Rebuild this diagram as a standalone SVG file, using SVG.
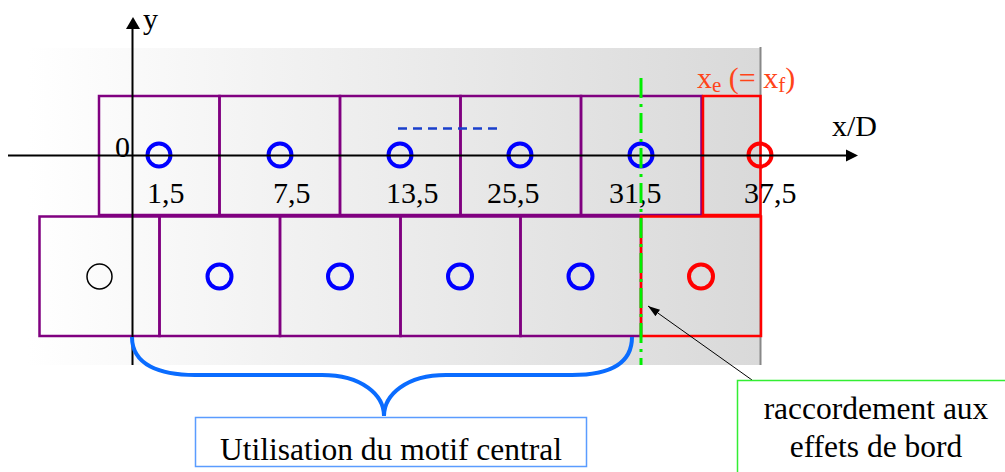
<svg xmlns="http://www.w3.org/2000/svg" width="1005" height="472" viewBox="0 0 1005 472">
<defs>
<linearGradient id="bg" x1="0" y1="0" x2="1" y2="0">
<stop offset="0" stop-color="#ffffff"/>
<stop offset="1" stop-color="#d9d9d9"/>
</linearGradient>
<marker id="ah" viewBox="0 0 12 8" refX="12" refY="4" markerWidth="12" markerHeight="8" markerUnits="userSpaceOnUse" orient="auto">
<path d="M0,0 L12,4 L0,8 Z" fill="#000"/>
</marker>
</defs>
<style>
.cell{fill:none;stroke:#800080;stroke-width:2.5}
.rcell{fill:none;stroke:#ff0000;stroke-width:2.5}
.bc{fill:none;stroke:#0000ff;stroke-width:4}
.rc{fill:none;stroke:#ff0000;stroke-width:4}
.t{font-family:"Liberation Serif","Times New Roman",serif;font-size:30px;fill:#000}
.tb{font-family:"Liberation Serif","Times New Roman",serif;font-size:31.5px;fill:#000}
.ax{stroke:#000;stroke-width:2;fill:none}
</style>
<rect x="28" y="48" width="732" height="317" fill="url(#bg)"/>
<line x1="760.5" y1="47" x2="760.5" y2="365" stroke="#888" stroke-width="2"/>

<g id="top-row">
<g id="t1"><rect class="cell" x="99" y="96" width="120.5" height="119"/><circle class="bc" cx="159" cy="155" r="11.5"/><text class="t" x="147" y="203">1,5</text></g>
<g id="t2"><rect class="cell" x="219.5" y="96" width="120.5" height="119"/><circle class="bc" cx="280" cy="155" r="11.5"/><text class="t" x="273" y="203">7,5</text></g>
<g id="t3"><rect class="cell" x="340" y="96" width="120.5" height="119"/><circle class="bc" cx="400" cy="155" r="11.5"/><text class="t" x="386" y="203">13,5</text></g>
<g id="t4"><rect class="cell" x="460.5" y="96" width="120.5" height="119"/><circle class="bc" cx="520" cy="155" r="11.5"/><text class="t" x="487" y="203">25,5</text></g>
<g id="t5"><rect class="cell" x="581" y="96" width="120.5" height="119"/><circle class="bc" cx="641" cy="155" r="11.5"/><text class="t" x="609" y="203">31,5</text></g>
<g id="t6"><rect class="rcell" x="703" y="96" width="57.5" height="119"/><circle class="rc" cx="760" cy="155" r="11.5"/><text class="t" x="744" y="203">37,5</text></g>
</g>

<g id="bottom-row">
<g id="b0"><rect class="cell" x="39.5" y="216.5" width="120" height="119.5"/><circle cx="99.5" cy="276.5" r="12.5" fill="none" stroke="#000" stroke-width="1.5"/></g>
<g id="b1"><rect class="cell" x="159.5" y="216.5" width="120.5" height="119.5"/><circle class="bc" cx="219.5" cy="276.5" r="12"/></g>
<g id="b2"><rect class="cell" x="280" y="216.5" width="120.5" height="119.5"/><circle class="bc" cx="340" cy="276.5" r="12"/></g>
<g id="b3"><rect class="cell" x="400.5" y="216.5" width="120" height="119.5"/><circle class="bc" cx="460" cy="276.5" r="12"/></g>
<g id="b4"><rect class="cell" x="520.5" y="216.5" width="120.5" height="119.5"/><circle class="bc" cx="580.5" cy="276.5" r="12"/></g>
<g id="b5"><rect class="rcell" x="641" y="216.5" width="120" height="119.5"/><circle class="rc" cx="701" cy="276.5" r="12"/></g>
</g>

<g id="axes">
<line class="ax" x1="8" y1="155.5" x2="848" y2="155.5"/>
<path d="M858,155.5 L846,149.5 L846,161.5 Z" fill="#000"/>
<line class="ax" x1="132.5" y1="365" x2="132.5" y2="27"/>
<path d="M133,17 L126,29 L140,29 Z" fill="#000"/>
<text class="t" x="143" y="29">y</text>
<text class="t" x="832" y="136">x/D</text>
<text class="t" x="115" y="157">0</text>
<text x="697" y="88" font-family="Liberation Serif, Times New Roman, serif" font-size="30" fill="#ff4419">x<tspan font-size="21" dy="4">e</tspan><tspan dy="-4"> (= x</tspan><tspan font-size="21" dy="4">f</tspan><tspan dy="-4">)</tspan></text>
</g>

<g id="connectors">
<line x1="398" y1="128.5" x2="503" y2="128.5" stroke="#1a3fcc" stroke-width="2.5" stroke-dasharray="9,6"/>
<line x1="641" y1="78" x2="641" y2="365" stroke="#00ee00" stroke-width="3" stroke-dasharray="20,6,3,6"/>
<path d="M132,337 C132,365 160,375 195,375 L322,375 C362,375 384,395 384,416 C384,395 406,375 446,375 L572,375 C607,375 632,365 632,337" fill="none" stroke="#0a6cff" stroke-width="4"/>
<line x1="752" y1="380" x2="648" y2="306" stroke="#000" stroke-width="1" marker-end="url(#ah)"/>
</g>

<g id="label-central">
<rect x="195.5" y="417.5" width="391" height="49" fill="#fff" stroke="#5a9cff" stroke-width="1.5"/>
<text class="tb" x="391" y="460" text-anchor="middle">Utilisation du motif central</text>
</g>

<g id="label-bord">
<rect x="737.5" y="380.5" width="280" height="100" fill="#fff" stroke="#33ee33" stroke-width="1.5"/>
<text class="tb" x="876" y="419" text-anchor="middle">raccordement aux</text>
<text class="tb" x="876" y="457" text-anchor="middle">effets de bord</text>
</g>
</svg>
